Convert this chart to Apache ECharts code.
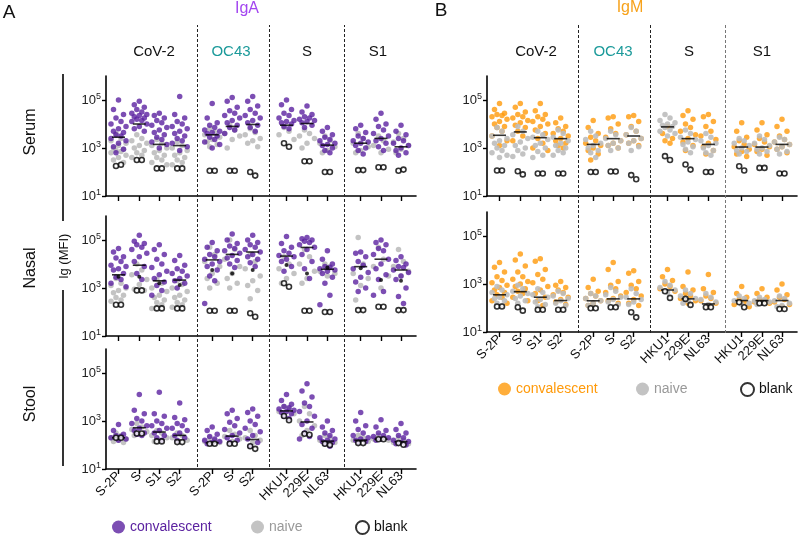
<!DOCTYPE html>
<html>
<head>
  <meta charset="UTF-8">
  <style>
    html, body { margin: 0; padding: 0; background: #fff; }
    #chart { width: 798px; height: 535px; }
  </style>
  <script src="https://cdn.jsdelivr.net/npm/echarts@6/dist/echarts.min.js"></script>
</head>
<body>
  <div id="chart"></div>
  <script>
    // tick labels + group headers
    const tickLabels = ['S-2P','S','S1','S2','S-2P','S','S2','HKU1','229E','NL63','HKU1','229E','NL63'];
    const groupNames = ['CoV-2','OC43','S','S1'];

    // all values are log10(MFI), one sub-array per tick
    const igaSerumConv = [
      [5.0,4.6,4.4,4.25,4.1,4.0,3.9,3.8,3.7,3.65,3.55,3.5,3.4,3.3,3.2,3.05,2.95,2.8],
      [4.95,4.8,4.7,4.6,4.5,4.45,4.4,4.35,4.3,4.25,4.2,4.15,4.1,4.0,3.9,3.8,3.7],
      [4.45,4.35,4.25,4.15,4.05,3.95,3.85,3.75,3.65,3.55,3.45,3.35,3.25,3.15,3.0],
      [5.15,4.4,4.25,4.1,4.0,3.9,3.8,3.7,3.6,3.5,3.4,3.3,3.2,3.05,2.9],
      [4.85,4.25,4.05,3.95,3.85,3.75,3.7,3.65,3.6,3.5,3.45,3.35,3.25,3.15,3.0],
      [5.1,4.95,4.7,4.55,4.45,4.35,4.25,4.15,4.05,3.95,3.85,3.75,3.6],
      [5.15,4.95,4.75,4.6,4.45,4.35,4.25,4.15,4.05,3.95,3.85,3.7],
      [5.0,4.8,4.6,4.45,4.35,4.25,4.15,4.1,4.05,4.0,3.9,3.8],
      [4.75,4.5,4.4,4.3,4.25,4.2,4.15,4.1,4.05,3.95,3.85],
      [3.85,3.7,3.55,3.45,3.35,3.3,3.2,3.15,3.1,3.0,2.9,2.8],
      [3.95,3.8,3.65,3.5,3.4,3.3,3.25,3.2,3.1,3.0,2.9,2.75],
      [4.45,4.2,4.0,3.9,3.75,3.6,3.5,3.4,3.3,3.2,3.05,2.9],
      [3.95,3.7,3.55,3.4,3.3,3.2,3.1,3.0,2.9,2.8,2.7]
    ];
    const igaSerumNaive = [
      [3.6,3.4,3.3,3.2,3.1,3.0,2.95,2.9,2.85,2.8,2.7,2.6,2.5,2.4],
      [3.55,3.4,3.3,3.2,3.1,3.0,2.9,2.8,2.7,2.6],
      [3.35,3.2,3.1,3.0,2.9,2.8,2.7,2.6,2.5,2.4,2.3],
      [3.25,3.1,3.0,2.9,2.8,2.7,2.6,2.5,2.4,2.3],
      [3.8,3.65,3.55,3.45,3.35,3.25,3.15,3.05],
      [3.95,3.75,3.6,3.5,3.35,3.0],
      [3.8,3.65,3.55,3.4,3.3,3.2,3.05],
      [3.85,3.7,3.55,3.35],
      [3.75,3.6,3.5,3.4,3.2,3.0],
      [3.5,3.3,3.2,3.05,2.9,2.8],
      [3.6,3.4,3.2,3.05,2.9,2.8],
      [3.5,3.3,3.1,2.95,2.8],
      [3.6,3.4,3.25,3.1,2.95,2.8]
    ];
    const igaSerumBlank = [[2.25,2.3],[2.5,2.5],[2.15,2.15],[2.15,2.15],[2.05,2.05],[2.05,2.05],[2.0,1.85],[3.2,3.05],[2.45,2.45],[2.0,2.0],[2.08,2.08],[2.2,2.2],[2.05,2.1]];
    const igaSerumMedian = [3.45,4.0,3.15,3.1,3.55,3.9,3.98,3.95,4.02,3.12,3.2,3.4,3.05];

    const igaNasalConv = [
      [4.65,4.5,4.3,4.25,4.1,3.95,3.9,3.8,3.75,3.6,3.45,3.35,3.2,3.05],
      [5.2,4.95,4.85,4.8,4.7,4.6,4.45,4.3,4.1,3.9,3.6,3.35],
      [4.8,4.6,4.4,4.2,4.0,3.85,3.7,3.55,3.4,3.25,3.1,2.9,2.7],
      [4.35,4.15,3.95,3.8,3.7,3.6,3.5,3.4,3.3,3.2,3.0],
      [4.9,4.7,4.55,4.4,4.3,4.2,4.1,4.0,3.9,3.75,3.5,3.3,2.35],
      [5.25,5.0,4.85,4.75,4.65,4.55,4.45,4.35,4.25,4.15,4.0,3.85],
      [5.2,5.0,4.9,4.8,4.7,4.6,4.5,4.4,4.3,4.2,4.05,3.9],
      [5.15,4.85,4.7,4.55,4.45,4.35,4.3,4.2,4.1,3.9,3.7],
      [5.1,5.05,5.0,4.95,4.9,4.8,4.7,4.6,4.4,4.1,3.8,3.4],
      [4.55,4.2,4.0,3.9,3.85,3.8,3.75,3.7,3.6,3.45,3.2,2.7,2.3],
      [4.5,4.45,4.3,4.1,3.95,3.8,3.65,3.45,3.25,3.0,2.85],
      [5.0,4.9,4.8,4.65,4.55,4.4,4.2,4.0,3.8,3.55,3.35,2.85,2.7],
      [4.3,4.15,4.0,3.9,3.85,3.75,3.65,3.5,3.35,3.0,2.65,2.35]
    ];
    const igaNasalNaive = [
      [3.4,3.2,3.1,3.0,2.9,2.8,2.7,2.6,2.5,2.45],
      [4.0,3.75,3.55,3.35,3.15,2.95,2.9],
      [3.35,3.2,3.0,2.85,2.7,2.6,2.5,2.4,2.3,2.15],
      [3.3,3.15,3.0,2.85,2.7,2.6,2.5,2.4,2.3,2.2],
      [4.7,4.4,4.1,3.9,3.6,3.4,3.2,3.0],
      [5.0,4.6,4.2,3.9,3.6,3.4,3.2,3.0],
      [4.4,4.1,3.8,3.5,3.3,3.1,2.9,2.55],
      [4.3,4.0,3.8,3.6,3.4,3.2],
      [4.6,4.3,4.0,3.7,3.4,3.2],
      [4.0,3.9,3.7,3.6,3.5],
      [5.1,4.0,3.6,3.4,3.1,2.5],
      [4.7,4.2,3.9,3.5,3.0],
      [4.6,4.1,3.9,3.7,3.5]
    ];
    const igaNasalBlank = [[2.3,2.3],[2.9,2.9],[2.15,2.15],[2.15,2.15],[2.05,2.05],[2.05,2.05],[1.95,1.8],[3.2,3.05],[2.05,2.05],[2.0,2.0],[2.08,2.08],[2.22,2.22],[2.08,2.08]];
    const igaNasalMedian = [3.55,3.95,3.3,3.33,4.17,4.4,4.5,4.33,4.69,3.78,3.89,4.2,3.75];
    const igaNasalDot = [3.47,3.47,3.2,3.13,3.75,3.6,3.75,3.96,3.6,3.85,3.82,3.33,3.3];

    const igaStoolConv = [
      [2.85,2.6,2.45,2.4,2.35,2.3,2.25,2.2],
      [4.1,3.45,3.3,3.1,3.0,2.9,2.8,2.7,2.6,2.5,2.45,2.4],
      [4.2,3.3,3.2,3.0,2.9,2.8,2.7,2.6,2.5,2.4,2.3,2.2],
      [3.75,3.15,3.05,2.9,2.8,2.7,2.6,2.5,2.4,2.3,2.2],
      [2.75,2.6,2.45,2.35,2.25,2.2,2.15,2.1,2.05],
      [3.45,3.3,3.1,2.95,2.8,2.65,2.5,2.4,2.3,2.2,2.1],
      [3.5,3.35,3.2,3.0,2.85,2.7,2.55,2.4,2.25,2.1,1.95],
      [4.1,3.85,3.7,3.6,3.55,3.5,3.45,3.4,3.35,3.3,3.2,3.1],
      [4.55,4.25,4.0,3.75,3.6,3.4,3.2,3.0,2.85,2.7,2.5,2.35,2.25],
      [3.0,2.75,2.6,2.5,2.4,2.3,2.25,2.2,2.15,2.1,2.05,1.95],
      [3.35,3.0,2.8,2.65,2.5,2.4,2.3,2.25,2.2,2.15,2.1],
      [3.05,2.75,2.6,2.5,2.4,2.35,2.3,2.25,2.2],
      [2.9,2.65,2.5,2.4,2.3,2.2,2.15,2.1,2.05,2.0]
    ];
    const igaStoolNaive = [
      [2.5,2.4,2.3,2.25,2.2,2.15,2.1],
      [2.9,2.75,2.65,2.55,2.45,2.4],
      [2.6,2.5,2.4,2.3,2.2,2.15],
      [2.5,2.4,2.3,2.2,2.15],
      [2.3,2.2,2.15,2.1,2.05],
      [2.6,2.45,2.35,2.25,2.15],
      [2.6,2.4,2.3,2.2,2.1],
      [3.6,3.5,3.4,3.3],
      [3.6,3.3,3.0,2.8,2.6,2.4],
      [2.4,2.3,2.2,2.1,2.05],
      [2.4,2.3,2.2,2.15],
      [2.4,2.3,2.25,2.2],
      [2.3,2.2,2.1,2.05]
    ];
    const igaStoolBlank = [[2.3,2.3],[2.48,2.48],[2.15,2.15],[2.12,2.12],[2.05,2.05],[2.05,2.05],[1.95,1.84],[3.21,3.03],[2.47,2.43],[2.05,2.0],[2.08,2.08],[2.24,2.24],[2.08,2.01]];
    const igaStoolMedian = [2.3,2.72,2.54,2.4,2.09,2.37,2.23,3.42,2.96,2.16,2.2,2.24,2.14];

    const igmSerumConv = [
      [4.85,4.6,4.45,4.4,4.35,4.3,4.2,4.1,4.0,3.9,3.85,3.7,3.5,3.3,3.1],
      [4.85,4.7,4.5,4.4,4.3,4.25,4.15,4.05,3.95,3.85,3.7,3.5,3.3],
      [4.85,4.55,4.4,4.3,4.2,4.1,4.0,3.9,3.75,3.6,3.4,3.2,3.0,2.9],
      [4.25,4.05,3.9,3.8,3.7,3.6,3.5,3.4,3.3,3.2,3.1,3.0],
      [4.15,3.85,3.6,3.45,3.3,3.2,3.1,3.0,2.9,2.75,2.5],
      [4.3,4.25,4.0,3.8,3.6,3.45,3.3,3.2,3.1,3.0],
      [4.35,4.3,4.1,3.9,3.7,3.55,3.4,3.3,3.2,3.1],
      [3.9,3.6,3.4,3.3,3.2],
      [4.55,4.35,4.2,4.0,3.85,3.7,3.55,3.4,3.25,3.1,2.9],
      [4.4,4.3,4.1,3.9,3.7,3.5,3.35,3.2,3.05,2.9,2.75],
      [4.05,3.7,3.45,3.3,3.15,3.05,2.95,2.85,2.75,2.65],
      [4.05,3.75,3.55,3.4,3.25,3.15,3.05,2.95,2.85,2.7],
      [4.2,3.9,3.7,3.5,3.35,3.25,3.15,3.05,2.95,2.8]
    ];
    const igmSerumNaive = [
      [3.85,3.7,3.5,3.4,3.3,3.2,3.1,3.0,2.9,2.8,2.7,2.6],
      [3.9,3.7,3.55,3.4,3.25,3.1,3.0,2.9,2.75,2.65],
      [3.7,3.55,3.45,3.35,3.2,3.1,3.0,2.85,2.7,2.6],
      [3.75,3.6,3.45,3.3,3.2,3.1,3.0,2.9,2.8,2.7],
      [3.7,3.5,3.35,3.2,3.1,3.0,2.9,2.8,2.6],
      [3.7,3.55,3.4,3.3,3.2,3.1,3.0,2.9],
      [3.85,3.7,3.55,3.4,3.3,3.2,3.05,2.9],
      [4.4,4.25,4.15,4.05,4.0,3.95,3.9,3.85,3.75,3.7,3.6,3.5],
      [3.75,3.6,3.45,3.35,3.25,3.15,3.05,2.95,2.8],
      [3.6,3.45,3.3,3.2,3.1,3.0,2.9,2.8,2.7],
      [3.4,3.3,3.2,3.1,3.0,2.9,2.85,2.75],
      [3.5,3.35,3.2,3.1,3.0,2.95,2.85,2.75],
      [3.45,3.35,3.25,3.15,3.05,2.95,2.85,2.75]
    ];
    const igmSerumBlank = [[2.06,2.06],[2.03,1.9],[1.94,1.94],[1.94,1.94],[2.0,2.0],[2.02,2.02],[1.87,1.7],[2.66,2.5],[2.31,2.1],[2.0,2.0],[2.24,2.06],[2.17,2.17],[1.94,1.94]];
    const igmSerumMedian = [3.53,3.67,3.43,3.39,3.15,3.39,3.5,3.88,3.39,3.15,3.04,3.04,3.15];

    const igmNasalConv = [
      [3.9,3.7,3.5,3.3,3.15,3.05,2.95,2.85,2.75,2.65,2.55,2.45,2.3,2.2],
      [4.25,4.0,3.75,3.5,3.3,3.2,3.1,3.0,2.9,2.8,2.7,2.6,2.45,2.3],
      [4.05,3.95,3.6,3.4,3.2,3.05,2.9,2.75,2.6,2.45,2.3,2.1],
      [3.1,2.95,2.85,2.75,2.65,2.55,2.45,2.35,2.25,2.15],
      [3.2,2.85,2.7,2.6,2.5,2.4,2.3,2.2,2.1],
      [3.9,3.6,3.1,2.95,2.8,2.65,2.5,2.4,2.3,2.2],
      [3.55,3.45,3.1,2.95,2.8,2.65,2.5,2.35,2.2,2.1],
      [3.6,3.3,3.15,3.0,2.9,2.8,2.7],
      [3.5,2.9,2.75,2.6,2.5,2.4,2.3,2.2],
      [3.4,2.8,2.65,2.5,2.4,2.3,2.2,2.1],
      [2.9,2.6,2.45,2.35,2.25,2.15,2.05],
      [2.8,2.6,2.45,2.35,2.3,2.25,2.2],
      [3.0,2.75,2.55,2.45,2.35,2.25,2.15,2.05]
    ];
    const igmNasalNaive = [
      [2.9,2.75,2.65,2.55,2.45,2.4,2.3,2.2,2.1],
      [2.95,2.8,2.7,2.6,2.5,2.4,2.3,2.2],
      [2.8,2.65,2.55,2.45,2.35,2.25,2.15,2.05],
      [2.7,2.6,2.5,2.4,2.3,2.2,2.1],
      [2.6,2.5,2.4,2.3,2.2,2.1],
      [2.85,2.7,2.55,2.45,2.35,2.25,2.15],
      [2.8,2.6,2.45,2.35,2.25,2.15],
      [3.1,2.95,2.85,2.75,2.65],
      [2.75,2.6,2.5,2.4,2.3,2.2],
      [2.6,2.45,2.35,2.25,2.15],
      [2.5,2.4,2.3,2.2,2.15],
      [2.45,2.35,2.3,2.25,2.2,2.15],
      [2.5,2.4,2.3,2.2,2.1,2.05]
    ];
    const igmNasalBlank = [[2.06,2.06],[2.03,1.89],[1.93,1.93],[1.93,1.93],[1.99,1.99],[2.03,2.03],[1.82,1.61],[2.7,2.42],[2.38,2.13],[2.03,2.03],[2.24,2.03],[2.2,2.2],[1.96,1.96]];
    const igmNasalMedian = [2.55,2.68,2.45,2.31,2.3,2.38,2.38,2.75,2.38,2.17,2.31,2.31,2.31];

    // layout (pixels along each x axis, not data)
    const tickPos = [12.5,33.3,53.3,73.7,106.2,126.2,146.7,180.5,201,221.4,254.7,275,295];
    const sepPos = [91,163,238];
    const jit = [0,-5,5,-2.5,2.5,-7.5,7.5];
    const FONT = '"Liberation Sans", Arial, sans-serif';
    const PURPLE = '#5b22a0', ORANGE = '#ff9a0a', GRAY = '#bdbdbd';

    function pts(rows, phase) {
      const out = [];
      rows.forEach((vals, i) => vals.forEach((v, j) => {
        out.push([tickPos[i] + jit[(j + phase) % jit.length], v]);
      }));
      return out;
    }
    function blanks(rows) {
      const out = [];
      rows.forEach((vals, i) => vals.forEach((v, j) => out.push([tickPos[i] + (j ? 2.5 : -2.5), v])));
      return out;
    }
    function singles(vals) {
      return vals.map((v, i) => [tickPos[i], v]);
    }

    function xAx(g, labels) {
      return {
        type: 'value', gridIndex: g, min: 0, max: 310,
        axisLine: { show: true, onZero: false, lineStyle: { color: '#000', width: 1.6 } },
        axisTick: { show: true, length: 5, customValues: tickPos, lineStyle: { color: '#000', width: 1.4 } },
        axisLabel: {
          show: labels, customValues: tickPos, rotate: 45, margin: 5,
          color: '#111', fontSize: 13, fontFamily: FONT,
          formatter: v => {
            let k = 0;
            tickPos.forEach((p, i) => { if (Math.abs(p - v) < Math.abs(tickPos[k] - v)) k = i; });
            return tickLabels[k];
          }
        },
        splitLine: { show: false }
      };
    }
    function yAx(g) {
      return {
        type: 'value', gridIndex: g, min: 1, max: 6,
        axisLine: { show: true, lineStyle: { color: '#000', width: 1.6 } },
        axisTick: { show: true, length: 4, customValues: [1, 3, 5], lineStyle: { color: '#000', width: 1.4 } },
        axisLabel: {
          customValues: [1, 3, 5], margin: 5, color: '#222', fontSize: 13, fontFamily: FONT,
          formatter: v => '10{s|' + v + '}',
          rich: { s: { fontSize: 9, fontFamily: FONT, color: '#222', padding: [0, 0, 7, 0] } }
        },
        splitLine: { show: false }
      };
    }

    const series = [];
    function row(g, panel, conv, naive, blank, median, dot) {
      const convS = { name: panel + ' convalescent', type: 'scatter', xAxisIndex: g, yAxisIndex: g, symbolSize: 5.5,
        itemStyle: { color: panel === 'A' ? PURPLE : ORANGE }, data: pts(conv, 0), z: 2 };
      const naiveS = { name: panel + ' naive', type: 'scatter', xAxisIndex: g, yAxisIndex: g, symbolSize: 5.5,
        itemStyle: { color: GRAY, opacity: 0.9 }, data: pts(naive, 3), z: panel === 'A' ? 1 : 3 };
      series.push(convS, naiveS);
      series.push({ name: panel + ' median', type: 'scatter', xAxisIndex: g, yAxisIndex: g, symbol: 'rect', symbolSize: [13, 1.6],
        itemStyle: { color: '#000' }, data: singles(median), z: 4 });
      if (dot) series.push({ name: panel + ' dot', type: 'scatter', xAxisIndex: g, yAxisIndex: g, symbolSize: 4,
        itemStyle: { color: '#000' }, data: singles(dot), z: 4 });
      series.push({ name: panel + ' blank', type: 'scatter', xAxisIndex: g, yAxisIndex: g, symbolSize: 5,
        itemStyle: { color: '#fff', borderColor: '#000', borderWidth: 1.6 }, data: blanks(blank), z: 5 });
    }
    row(0, 'A', igaSerumConv, igaSerumNaive, igaSerumBlank, igaSerumMedian);
    row(1, 'A', igaNasalConv, igaNasalNaive, igaNasalBlank, igaNasalMedian, igaNasalDot);
    row(2, 'A', igaStoolConv, igaStoolNaive, igaStoolBlank, igaStoolMedian);
    row(3, 'B', igmSerumConv, igmSerumNaive, igmSerumBlank, igmSerumMedian);
    row(4, 'B', igmNasalConv, igmNasalNaive, igmNasalBlank, igmNasalMedian);

    // dashed separators in full-height overlay grids
    [5, 6].forEach((g, k) => {
      series.push({ type: 'scatter', xAxisIndex: g, yAxisIndex: g, data: [[0, 0]], symbolSize: 0, silent: true,
        markLine: { symbol: 'none', silent: true, label: { show: false },
          data: sepPos.map((p, i) => ({ xAxis: p, lineStyle: { type: [3, 2], width: 1, color: (k === 1 && i === 2) ? '#777' : '#222' } })) } });
    });

    const grids = [
      { left: 106, top: 76, width: 310, height: 120 },
      { left: 106, top: 216, width: 310, height: 120 },
      { left: 106, top: 349, width: 310, height: 120 },
      { left: 487, top: 76, width: 310, height: 120 },
      { left: 487, top: 212, width: 310, height: 120 },
      { left: 106, top: 25, width: 310, height: 442 },
      { left: 487, top: 25, width: 310, height: 308 }
    ];
    const xAxes = [xAx(0, false), xAx(1, false), xAx(2, true), xAx(3, false), xAx(4, true)];
    const yAxes = [0, 1, 2, 3, 4].map(yAx);
    [5, 6].forEach(g => {
      xAxes.push({ type: 'value', gridIndex: g, min: 0, max: 310, show: false });
      yAxes.push({ type: 'value', gridIndex: g, min: 0, max: 1, show: false });
    });

    function leg(name, left, top, color) {
      return { left: left, top: top, padding: 0, itemWidth: 13, itemHeight: 13, selectedMode: false, icon: 'circle',
        data: [name], formatter: n => n.slice(2),
        textStyle: { color: color, fontSize: 14, fontFamily: FONT } };
    }

    function txt(s, x, y, size, color, extra) {
      return Object.assign({ type: 'text', x: x, y: y,
        style: { text: s, fill: color || '#111', font: size + 'px ' + FONT, align: 'center', verticalAlign: 'middle' } }, extra || {});
    }
    const graphics = [
      txt('A', 9, 13, 19, '#111'), txt('B', 441, 11, 19, '#111'),
      txt('IgA', 247, 9, 16, '#a346f0'), txt('IgM', 630, 8, 16, '#f7a21b'),
      txt('Serum', 31, 132, 16, '#111', { rotation: Math.PI / 2 }),
      txt('Nasal', 31, 268, 16, '#111', { rotation: Math.PI / 2 }),
      txt('Stool', 31, 404, 16, '#111', { rotation: Math.PI / 2 }),
      txt('lg (MFI)', 64, 256, 13, '#111', { rotation: Math.PI / 2 }),
      { type: 'line', shape: { x1: 63, y1: 74, x2: 63, y2: 221 }, style: { stroke: '#000', lineWidth: 1.6 } },
      { type: 'line', shape: { x1: 63, y1: 290, x2: 63, y2: 466 }, style: { stroke: '#000', lineWidth: 1.6 } }
    ];
    const groupX = [[154, 231, 307, 378], [536, 613, 689, 762]];
    groupX.forEach(xs => xs.forEach((x, i) => graphics.push(txt(groupNames[i], x, 52, 15, i === 1 ? '#1b9a9a' : '#111'))));

    const chart = echarts.init(document.getElementById('chart'));
    chart.setOption({
      animation: false,
      grid: grids,
      xAxis: xAxes,
      yAxis: yAxes,
      legend: [
        leg('A convalescent', 112, 520, PURPLE),
        leg('A naive', 251, 520, '#999'),
        leg('A blank', 355, 520, '#111'),
        leg('B convalescent', 498, 382, ORANGE),
        leg('B naive', 636, 382, '#999'),
        leg('B blank', 740, 382, '#111')
      ],
      graphic: graphics,
      series: series
    });
  </script>
</body>
</html>
